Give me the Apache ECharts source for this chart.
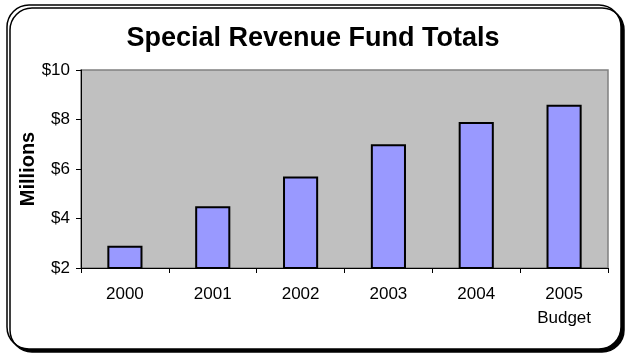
<!DOCTYPE html>
<html><head><meta charset="utf-8">
<script src="https://cdn.jsdelivr.net/npm/echarts@6/dist/echarts.min.js"></script>
<style>html,body{margin:0;padding:0;background:#fff}#c{width:626px;height:358px}</style>
</head><body><div id="c"></div>
<script>
const categories = ['2000', '2001', '2002', '2003', '2004', '2005\nBudget'];
const values = [2.9, 4.5, 5.7, 7.0, 7.9, 8.6];
const yTicks = [2, 4, 6, 8, 10];

const FONT = 'Liberation Sans, Arial, sans-serif';
const chart = echarts.init(document.getElementById('c'), null, {renderer: 'canvas'});
chart.setOption({
  animation: false,
  backgroundColor: '#fff',
  graphic: [{
    type: 'rect', z: -10,
    shape: {x: 7, y: 5, width: 614, height: 344, r: 22},
    style: {fill: '#fff', stroke: '#000', lineWidth: 1.5, shadowColor: '#000', shadowOffsetX: 3, shadowOffsetY: 3, shadowBlur: 0}
  }],
  title: {
    text: 'Special Revenue Fund Totals', left: 'center', top: 20,
    textStyle: {fontFamily: FONT, fontSize: 27, fontWeight: 'bold', color: '#000'}
  },
  grid: {left: 81, right: 18, top: 70, bottom: 90, show: true, backgroundColor: '#c0c0c0', borderColor: '#808080', borderWidth: 1.5},
  xAxis: {
    type: 'category', data: categories,
    axisLine: {lineStyle: {color: '#000', width: 1}},
    axisTick: {show: true, alignWithLabel: false, length: 5, lineStyle: {color: '#000'}},
    axisLabel: {fontFamily: FONT, fontSize: 17, color: '#000', margin: 14, lineHeight: 24}
  },
  yAxis: {
    type: 'value', min: yTicks[0], max: yTicks[yTicks.length - 1], interval: 2,
    name: 'Millions', nameLocation: 'middle', nameGap: 43, nameRotate: 90, nameMoveOverlap: false,
    nameTextStyle: {fontFamily: FONT, fontSize: 20, fontWeight: 'bold', color: '#000'},
    axisLine: {show: true, lineStyle: {color: '#000', width: 1}},
    axisTick: {show: true, length: 5, lineStyle: {color: '#000'}},
    splitLine: {show: false},
    axisLabel: {fontFamily: FONT, fontSize: 17, color: '#000', margin: 11, formatter: v => '$' + v}
  },
  series: [{
    type: 'bar', data: values, barWidth: '40%',
    itemStyle: {color: '#9999ff', borderColor: '#000', borderWidth: 2}
  }]
});
</script></body></html>
